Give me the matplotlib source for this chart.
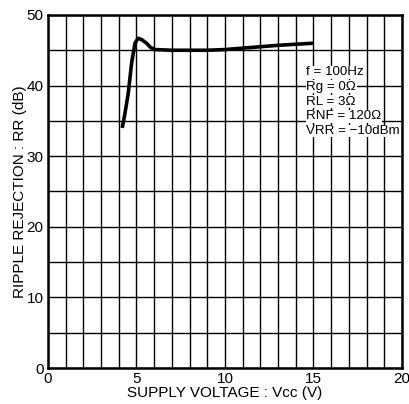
import matplotlib
matplotlib.use('Agg')
import matplotlib.pyplot as plt

# curve
vcc = [4.2, 4.35, 4.54, 4.73, 4.92, 5.1, 5.3, 5.57, 5.8, 6.05, 7, 8, 9, 10, 11, 12, 13, 14, 15]
rr = [34.0, 36.0, 38.9, 43.2, 46.0, 46.7, 46.5, 46.0, 45.4, 45.1, 45.0, 45.0, 45.0, 45.1, 45.3, 45.5, 45.7, 45.85, 46.0]

x_ticks = [0, 5, 10, 15, 20]
y_ticks = [0, 10, 20, 30, 40, 50]
conditions = ["f = 100Hz", "Rg = 0Ω", "RL = 3Ω", "RNF = 120Ω", "VRR = −10dBm"]

plt.rcParams['font.family'] = ['Liberation Sans', 'DejaVu Sans']

fig = plt.figure(figsize=(4.09, 4.04), dpi=100)
ax = fig.add_axes([0.117, 0.089, 0.866, 0.874])

ax.set_xlim(0, 20)
ax.set_ylim(0, 50)
ax.set_xticks(range(0, 21), minor=True)
ax.set_yticks(range(0, 51, 5), minor=True)
ax.set_xticks(x_ticks)
ax.set_yticks(y_ticks)
ax.grid(True, which='both', color='black', linewidth=1.0)
ax.tick_params(which='both', length=0, labelsize=11, pad=3)
for s in ax.spines.values():
    s.set_linewidth(1.8)

ax.plot(vcc, rr, color='black', linewidth=2.6, solid_capstyle='butt', zorder=3)

for i, t in enumerate(conditions):
    ax.text(14.6, 41.9 - i * 2.08, t, fontsize=9.6, va='center', ha='left', zorder=4,
            bbox=dict(facecolor='white', edgecolor='none', pad=0.3))

ax.set_xlabel("SUPPLY VOLTAGE : Vcc (V)", fontsize=11, labelpad=0)
ax.set_ylabel("RIPPLE REJECTION : RR (dB)", fontsize=11, labelpad=0)

fig.savefig("out.png", dpi=100)
